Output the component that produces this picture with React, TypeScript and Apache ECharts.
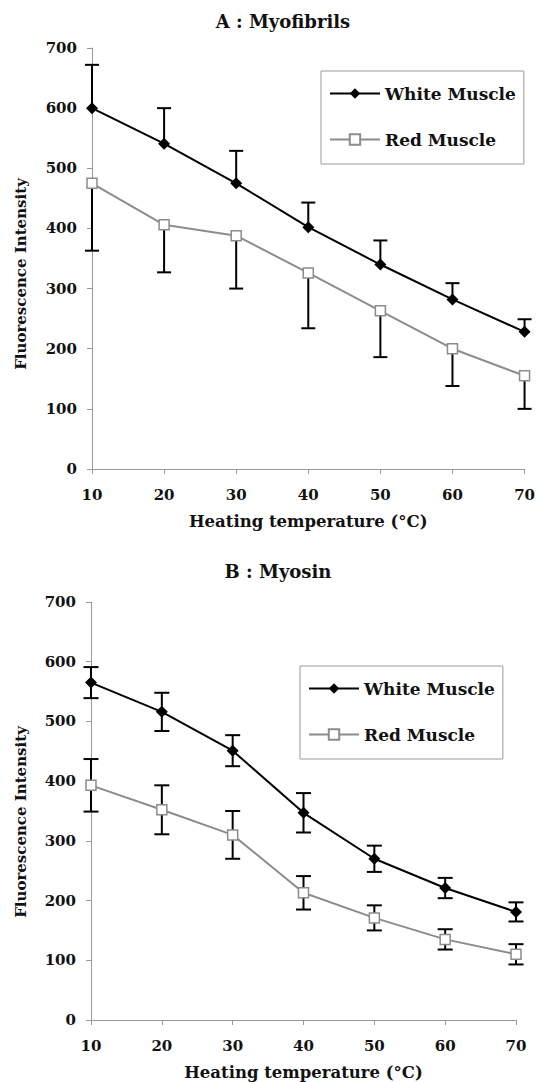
import React, { useEffect, useRef } from "react";
import * as echarts from "echarts";

const temps = [10, 20, 30, 40, 50, 60, 70];

// A : Myofibrils
const myofibrilWhite = [600, 541, 475, 402, 340, 282, 228];
const myofibrilWhiteSD = [72, 59, 54, 41, 40, 27, 21];
const myofibrilRed = [475, 406, 388, 326, 263, 200, 155];
const myofibrilRedSD = [112, 79, 88, 92, 77, 62, 55];

// B : Myosin
const myosinWhite = [565, 516, 451, 347, 270, 221, 181];
const myosinWhiteSD = [26, 32, 26, 33, 22, 17, 16];
const myosinRed = [393, 352, 310, 213, 171, 135, 110];
const myosinRedSD = [44, 41, 40, 28, 21, 17, 17];

const seriesNames = ["White Muscle", "Red Muscle"];
const titles = ["A : Myofibrils", "B : Myosin"];
const xName = "Heating temperature (°C)";
const yName = "Fluorescence Intensity";

const FONT = "DejaVu Serif";
const TXT = "#111";
const AXIS = "#999";
const GRAY = "#8c8c8c";

export default function App() {
  const ref = useRef<HTMLDivElement>(null);

  useEffect(() => {
    if (!ref.current) return;
    const chart = echarts.init(ref.current, null, { renderer: "svg" });

    const errSeries = (
      xi: number,
      means: number[],
      sds: number[],
      dir: number,
      cap: number
    ) => ({
      type: "custom",
      xAxisIndex: xi,
      yAxisIndex: xi,
      z: 2,
      silent: true,
      encode: { x: 0, y: 1 },
      data: temps.map((t, i) => [t, means[i], sds[i], dir]),
      renderItem: (params: any, api: any) => {
        const x = api.value(0);
        const m = api.value(1);
        const sd = api.value(2);
        const d = api.value(3);
        const hi = d >= 0 ? m + sd : m;
        const lo = d <= 0 ? m - sd : m;
        const pHi = api.coord([x, hi]);
        const pLo = api.coord([x, lo]);
        const h = cap / 2;
        const st = { stroke: "#000", lineWidth: 2 };
        const children: any[] = [
          { type: "line", shape: { x1: pHi[0], y1: pHi[1], x2: pLo[0], y2: pLo[1] }, style: st },
        ];
        if (d >= 0)
          children.push({ type: "line", shape: { x1: pHi[0] - h, y1: pHi[1], x2: pHi[0] + h, y2: pHi[1] }, style: st });
        if (d <= 0)
          children.push({ type: "line", shape: { x1: pLo[0] - h, y1: pLo[1], x2: pLo[0] + h, y2: pLo[1] }, style: st });
        return { type: "group", children };
      },
    });

    const lineSeries = (xi: number, white: number[], red: number[]) => [
      {
        name: seriesNames[0],
        type: "line",
        xAxisIndex: xi,
        yAxisIndex: xi,
        z: 3,
        data: temps.map((t, i) => [t, white[i]]),
        symbol: "diamond",
        symbolSize: 12,
        lineStyle: { color: "#000", width: 2 },
        itemStyle: { color: "#000" },
      },
      {
        name: seriesNames[1],
        type: "line",
        xAxisIndex: xi,
        yAxisIndex: xi,
        z: 3,
        data: temps.map((t, i) => [t, red[i]]),
        symbol: "rect",
        symbolSize: 10,
        lineStyle: { color: GRAY, width: 2 },
        itemStyle: { color: "#fff", borderColor: GRAY, borderWidth: 1.5 },
      },
    ];

    const xAxis = (gi: number) => ({
      type: "value",
      gridIndex: gi,
      min: 10,
      max: 70,
      interval: 10,
      axisLine: { show: true, lineStyle: { color: AXIS, width: 1 } },
      axisTick: { show: true, length: 5, lineStyle: { color: AXIS } },
      splitLine: { show: false },
      axisLabel: { margin: 18, fontSize: 15, fontWeight: "bold", fontFamily: FONT, color: TXT },
      name: xName,
      nameLocation: "middle",
      nameGap: 44,
      nameTextStyle: { fontSize: 16.5, fontWeight: "bold", fontFamily: FONT, color: TXT },
    });

    const yAxis = (gi: number) => ({
      type: "value",
      gridIndex: gi,
      min: 0,
      max: 700,
      interval: 100,
      axisLine: { show: true, lineStyle: { color: AXIS, width: 1 } },
      axisTick: { show: true, length: 5, lineStyle: { color: AXIS } },
      splitLine: { show: false },
      axisLabel: { margin: 15, fontSize: 15, fontWeight: "bold", fontFamily: FONT, color: TXT },
    });

    const legend = (left: number, top: number) => ({
      orient: "vertical",
      left,
      top,
      padding: [14, 8, 16, 8],
      itemGap: 29,
      itemWidth: 50,
      itemHeight: 13,
      borderColor: "#9a9a9a",
      borderWidth: 1,
      backgroundColor: "#fff",
      selectedMode: false,
      textStyle: { fontFamily: FONT, fontWeight: "bold", fontSize: 17, color: TXT },
      data: seriesNames,
    });

    const titleText = (x: number, y: number, text: string) => ({
      type: "text",
      x,
      y,
      style: {
        text,
        fontFamily: FONT,
        fontWeight: "bold",
        fontSize: 18,
        fill: TXT,
        textAlign: "center",
        textVerticalAlign: "middle",
      },
    });

    const yNameText = (x: number, y: number) => ({
      type: "text",
      x,
      y,
      rotation: Math.PI / 2,
      style: {
        text: yName,
        fontFamily: FONT,
        fontWeight: "bold",
        fontSize: 15,
        fill: TXT,
        textAlign: "center",
        textVerticalAlign: "middle",
      },
    });

    chart.setOption({
      animation: false,
      backgroundColor: "#fff",
      grid: [
        { left: 92, right: 11, top: 48, height: 421 },
        { left: 91, right: 22, top: 602, height: 420 },
      ],
      xAxis: [xAxis(0), xAxis(1)],
      yAxis: [yAxis(0), yAxis(1)],
      legend: [legend(321, 71), legend(300, 666)],
      graphic: [
        titleText(283, 21, titles[0]),
        titleText(278, 571, titles[1]),
        yNameText(21, 274),
        yNameText(21, 822),
      ],
      series: [
        errSeries(0, myofibrilWhite, myofibrilWhiteSD, 1, 14),
        errSeries(0, myofibrilRed, myofibrilRedSD, -1, 14),
        errSeries(1, myosinWhite, myosinWhiteSD, 0, 15),
        errSeries(1, myosinRed, myosinRedSD, 0, 15),
        ...lineSeries(0, myofibrilWhite, myofibrilRed),
        ...lineSeries(1, myosinWhite, myosinRed),
      ],
    });

    return () => chart.dispose();
  }, []);

  return (
    <div
      ref={ref}
      style={{ position: "fixed", left: 0, top: 0, width: 538, height: 1082, background: "#fff" }}
    />
  );
}
